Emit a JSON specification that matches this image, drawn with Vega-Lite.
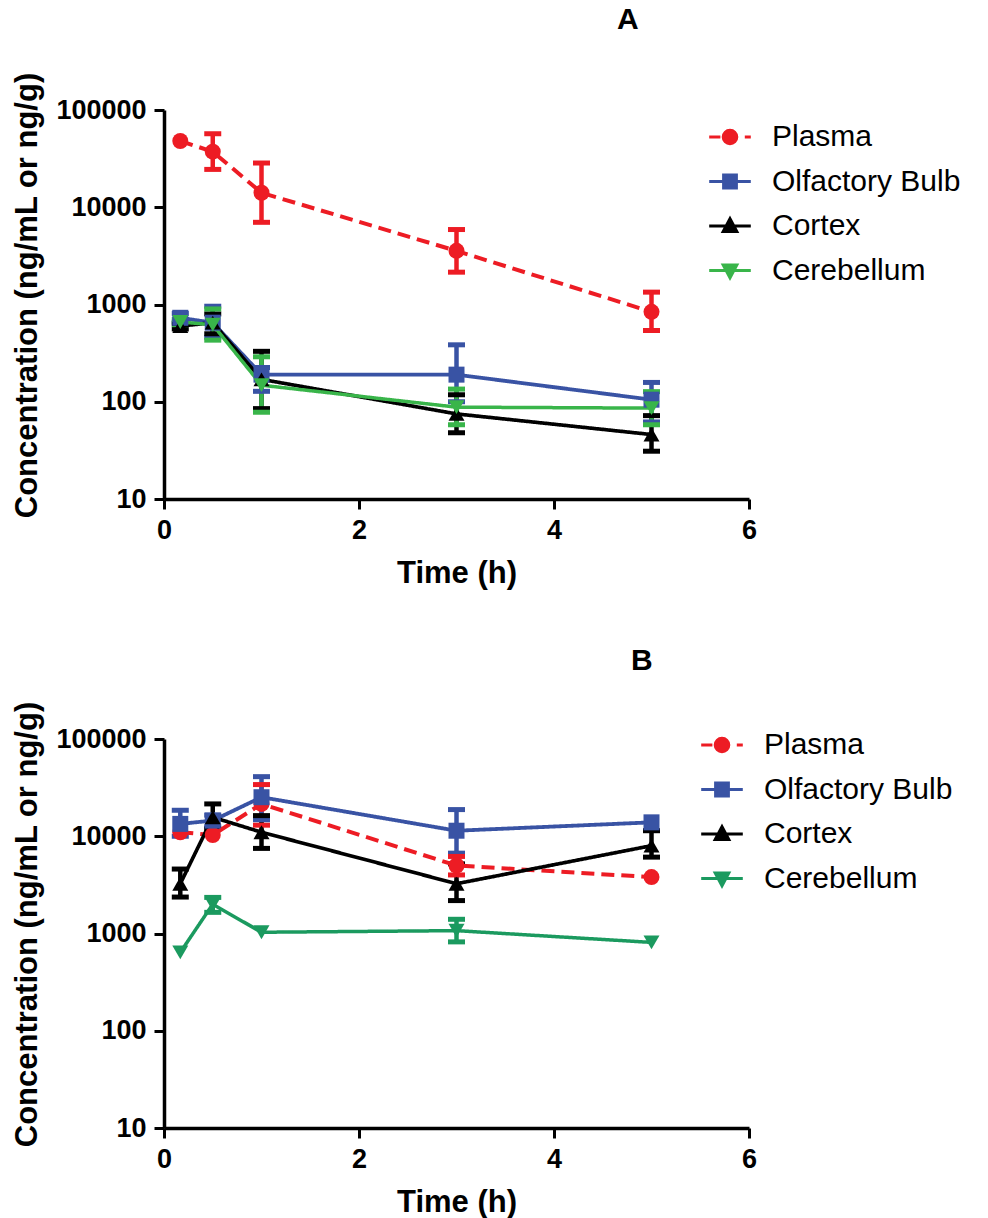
{
  "$schema": "https://vega.github.io/schema/vega-lite/v6.json",
  "background": "white",
  "padding": {"left": 11, "top": 4, "right": 5, "bottom": 2},
  "spacing": 57,
  "resolve": {"scale": {"color": "independent", "fill": "independent", "stroke": "independent", "shape": "independent", "strokeDash": "independent", "strokeWidth": "independent"}},
  "config": {
    "view": {"stroke": null},
    "font": "Liberation Sans",
    "axis": {
      "grid": false, "domainColor": "black", "domainWidth": 3.5, "tickColor": "black", "tickWidth": 3, "tickSize": 10,
      "labelFont": "Liberation Sans", "labelFontSize": 27, "labelFontWeight": "bold", "labelColor": "black", "labelPadding": 8, "labelFlush": false,
      "titleFont": "Liberation Sans", "titleFontSize": 31, "titleFontWeight": "bold", "titleColor": "black"
    },
    "axisY": {"titlePadding": 12, "titleY": 185},
    "axisX": {"titlePadding": 15},
    "title": {"font": "Liberation Sans", "fontSize": 30, "fontWeight": "bold", "color": "black", "anchor": "start", "frame": "group"},
    "legend": {"labelLimit": 400}
  },
  "datasets": {
    "a": [
      {"series": "Plasma", "time": 0.167, "conc": 48000, "lo": null, "hi": null},
      {"series": "Plasma", "time": 0.5, "conc": 37300, "lo": 24500, "hi": 57000},
      {"series": "Plasma", "time": 1, "conc": 14100, "lo": 7000, "hi": 28500},
      {"series": "Plasma", "time": 3, "conc": 3560, "lo": 2150, "hi": 5900},
      {"series": "Plasma", "time": 5, "conc": 840, "lo": 540, "hi": 1340},
      {"series": "Olfactory Bulb", "time": 0.167, "conc": 730, "lo": 660, "hi": 810},
      {"series": "Olfactory Bulb", "time": 0.5, "conc": 650, "lo": 460, "hi": 960},
      {"series": "Olfactory Bulb", "time": 1, "conc": 190, "lo": 128, "hi": 225},
      {"series": "Olfactory Bulb", "time": 3, "conc": 190, "lo": 100, "hi": 385},
      {"series": "Olfactory Bulb", "time": 5, "conc": 105, "lo": 62, "hi": 158},
      {"series": "Cortex", "time": 0.167, "conc": 600, "lo": 560, "hi": 640},
      {"series": "Cortex", "time": 0.5, "conc": 650, "lo": 500, "hi": 800},
      {"series": "Cortex", "time": 1, "conc": 170, "lo": 85, "hi": 330},
      {"series": "Cortex", "time": 3, "conc": 75, "lo": 48, "hi": 118},
      {"series": "Cortex", "time": 5, "conc": 46, "lo": 31, "hi": 72},
      {"series": "Cerebellum", "time": 0.167, "conc": 660, "lo": 620, "hi": 700},
      {"series": "Cerebellum", "time": 0.5, "conc": 620, "lo": 430, "hi": 900},
      {"series": "Cerebellum", "time": 1, "conc": 148, "lo": 78, "hi": 290},
      {"series": "Cerebellum", "time": 3, "conc": 88, "lo": 58, "hi": 135},
      {"series": "Cerebellum", "time": 5, "conc": 86, "lo": 58, "hi": 127}
    ],
    "b": [
      {"series": "Plasma", "time": 0.167, "conc": 11000, "lo": null, "hi": null},
      {"series": "Plasma", "time": 0.5, "conc": 10300, "lo": null, "hi": null},
      {"series": "Plasma", "time": 1, "conc": 21500, "lo": 13000, "hi": 34000},
      {"series": "Plasma", "time": 3, "conc": 5000, "lo": 4000, "hi": 6200},
      {"series": "Plasma", "time": 5, "conc": 3800, "lo": null, "hi": null},
      {"series": "Olfactory Bulb", "time": 0.167, "conc": 13400, "lo": 10000, "hi": 18500},
      {"series": "Olfactory Bulb", "time": 0.5, "conc": 14500, "lo": 12500, "hi": 16500},
      {"series": "Olfactory Bulb", "time": 1, "conc": 25200, "lo": 14800, "hi": 41000},
      {"series": "Olfactory Bulb", "time": 3, "conc": 11400, "lo": 6700, "hi": 18800},
      {"series": "Olfactory Bulb", "time": 5, "conc": 13900, "lo": null, "hi": null},
      {"series": "Cortex", "time": 0.167, "conc": 3250, "lo": 2370, "hi": 4600},
      {"series": "Cortex", "time": 0.5, "conc": 15700, "lo": 11900, "hi": 21500},
      {"series": "Cortex", "time": 1, "conc": 11000, "lo": 7500, "hi": 16300},
      {"series": "Cortex", "time": 3, "conc": 3250, "lo": 2180, "hi": 5200},
      {"series": "Cortex", "time": 5, "conc": 8000, "lo": 6100, "hi": 11400},
      {"series": "Cerebellum", "time": 0.167, "conc": 640, "lo": null, "hi": null},
      {"series": "Cerebellum", "time": 0.5, "conc": 2000, "lo": 1650, "hi": 2350},
      {"series": "Cerebellum", "time": 1, "conc": 1030, "lo": null, "hi": null},
      {"series": "Cerebellum", "time": 3, "conc": 1070, "lo": 820, "hi": 1400},
      {"series": "Cerebellum", "time": 5, "conc": 810, "lo": null, "hi": null}
    ]
  },
  "vconcat": [
    {
      "width": 585, "height": 389,
      "title": {"text": "A", "dx": 453, "offset": 37},
      "data": {"name": "a"},
      "resolve": {"scale": {"shape": "independent", "fill": "independent", "stroke": "independent"}},
      "encoding": {
        "x": {"field": "time", "type": "quantitative", "title": "Time (h)", "scale": {"domain": [0, 6], "nice": false}, "axis": {"values": [0, 2, 4, 6]}}
      },
      "layer": [
        {
          "mark": {"type": "rule", "strokeWidth": 4.5},
          "encoding": {
            "y": {"field": "lo", "type": "quantitative", "title": "Concentration (ng/mL or ng/g)", "scale": {"type": "log", "domain": [10, 100000]}, "axis": {"values": [10, 100, 1000, 10000, 100000], "format": "d"}},
            "y2": {"field": "hi"},
            "color": {"field": "series", "type": "nominal", "scale": {"domain": ["Plasma", "Olfactory Bulb", "Cortex", "Cerebellum"], "range": ["#ed1c24", "#3953a4", "#000000", "#39b54a"]}, "legend": null}
          }
        },
        {
          "mark": {"type": "tick", "orient": "horizontal", "size": 17, "thickness": 5, "opacity": 1},
          "encoding": {
            "y": {"field": "lo", "type": "quantitative", "title": "Concentration (ng/mL or ng/g)"},
            "color": {"field": "series", "type": "nominal", "legend": null}
          }
        },
        {
          "mark": {"type": "tick", "orient": "horizontal", "size": 17, "thickness": 5, "opacity": 1},
          "encoding": {
            "y": {"field": "hi", "type": "quantitative", "title": "Concentration (ng/mL or ng/g)"},
            "color": {"field": "series", "type": "nominal", "legend": null}
          }
        },
        {
          "mark": {"type": "line"},
          "encoding": {
            "y": {"field": "conc", "type": "quantitative", "title": "Concentration (ng/mL or ng/g)"},
            "color": {"field": "series", "type": "nominal", "legend": null},
            "strokeWidth": {"field": "series", "type": "nominal", "scale": {"domain": ["Plasma", "Olfactory Bulb", "Cortex", "Cerebellum"], "range": [4, 3.5, 3.5, 3.5]}, "legend": null},
            "strokeDash": {"field": "series", "type": "nominal", "scale": {"domain": ["Plasma", "Olfactory Bulb", "Cortex", "Cerebellum"], "range": [[13, 7], [1, 0], [1, 0], [1, 0]]}, "legend": null}
          }
        },
        {
          "mark": {"type": "point", "filled": true, "opacity": 1, "size": 256, "strokeWidth": 0},
          "encoding": {
            "y": {"field": "conc", "type": "quantitative", "title": "Concentration (ng/mL or ng/g)"},
            "color": {"field": "series", "type": "nominal", "legend": null},
            "shape": {"field": "series", "type": "nominal", "scale": {"domain": ["Plasma", "Olfactory Bulb", "Cortex", "Cerebellum"], "range": ["circle", "square", "triangle-up", "triangle-down"]}, "legend": null}
          }
        },
        {
          "transform": [{"filter": "false"}],
          "mark": {"type": "point", "filled": true, "opacity": 1, "size": 256, "strokeWidth": 3},
          "encoding": {
            "y": {"field": "conc", "type": "quantitative", "title": "Concentration (ng/mL or ng/g)"},
            "fill": {"field": "series", "type": "nominal", "scale": {"domain": ["Plasma", "Olfactory Bulb", "Cortex", "Cerebellum"], "range": ["#ed1c24", "#3953a4", "#000000", "#39b54a"]},
              "legend": {"orient": "none", "legendX": 551, "legendY": 12, "title": null, "labelFont": "Liberation Sans", "labelFontSize": 30, "labelColor": "black", "symbolSize": 256, "symbolStrokeWidth": 3, "rowPadding": 14.5, "labelOffset": 27, "padding": 0, "symbolOpacity": 1}},
            "stroke": {"field": "series", "type": "nominal", "scale": {"domain": ["Plasma", "Olfactory Bulb", "Cortex", "Cerebellum"], "range": ["#ed1c24", "#3953a4", "#000000", "#39b54a"]},
              "legend": {"orient": "none", "legendX": 551, "legendY": 12, "title": null, "labelFont": "Liberation Sans", "labelFontSize": 30, "labelColor": "black", "symbolSize": 256, "symbolStrokeWidth": 3, "rowPadding": 14.5, "labelOffset": 27, "padding": 0, "symbolOpacity": 1}},
            "shape": {"field": "series", "type": "nominal", "scale": {"domain": ["Plasma", "Olfactory Bulb", "Cortex", "Cerebellum"], "range": ["M-2.6,0H-1.2M1.85,0H2.6M0.85,0A0.85,0.85,0,1,1,-0.85,0A0.85,0.85,0,1,1,0.85,0Z", "M-2.6,0H2.6M-0.8,-0.8H0.8V0.8H-0.8Z", "M-2.6,0H2.6M0,-0.9L0.85,0.7H-0.85Z", "M-2.6,0H2.6M0,0.9L0.85,-0.7H-0.85Z"]},
              "legend": {"orient": "none", "legendX": 551, "legendY": 12, "title": null, "labelFont": "Liberation Sans", "labelFontSize": 30, "labelColor": "black", "symbolSize": 256, "symbolStrokeWidth": 3, "rowPadding": 14.5, "labelOffset": 27, "padding": 0, "symbolOpacity": 1}}
          }
        }
      ]
    },
    {
      "width": 585, "height": 389,
      "title": {"text": "B", "dx": 467, "offset": 25},
      "data": {"name": "b"},
      "resolve": {"scale": {"shape": "independent", "fill": "independent", "stroke": "independent"}},
      "encoding": {
        "x": {"field": "time", "type": "quantitative", "title": "Time (h)", "scale": {"domain": [0, 6], "nice": false}, "axis": {"values": [0, 2, 4, 6]}}
      },
      "layer": [
        {
          "mark": {"type": "rule", "strokeWidth": 4.5},
          "encoding": {
            "y": {"field": "lo", "type": "quantitative", "title": "Concentration (ng/mL or ng/g)", "scale": {"type": "log", "domain": [10, 100000]}, "axis": {"values": [10, 100, 1000, 10000, 100000], "format": "d"}},
            "y2": {"field": "hi"},
            "color": {"field": "series", "type": "nominal", "scale": {"domain": ["Plasma", "Olfactory Bulb", "Cortex", "Cerebellum"], "range": ["#ed1c24", "#3953a4", "#000000", "#1b9a5f"]}, "legend": null}
          }
        },
        {
          "mark": {"type": "tick", "orient": "horizontal", "size": 17, "thickness": 5, "opacity": 1},
          "encoding": {
            "y": {"field": "lo", "type": "quantitative", "title": "Concentration (ng/mL or ng/g)"},
            "color": {"field": "series", "type": "nominal", "legend": null}
          }
        },
        {
          "mark": {"type": "tick", "orient": "horizontal", "size": 17, "thickness": 5, "opacity": 1},
          "encoding": {
            "y": {"field": "hi", "type": "quantitative", "title": "Concentration (ng/mL or ng/g)"},
            "color": {"field": "series", "type": "nominal", "legend": null}
          }
        },
        {
          "mark": {"type": "line"},
          "encoding": {
            "y": {"field": "conc", "type": "quantitative", "title": "Concentration (ng/mL or ng/g)"},
            "color": {"field": "series", "type": "nominal", "legend": null},
            "strokeWidth": {"field": "series", "type": "nominal", "scale": {"domain": ["Plasma", "Olfactory Bulb", "Cortex", "Cerebellum"], "range": [4, 3.5, 3.5, 3.5]}, "legend": null},
            "strokeDash": {"field": "series", "type": "nominal", "scale": {"domain": ["Plasma", "Olfactory Bulb", "Cortex", "Cerebellum"], "range": [[13, 7], [1, 0], [1, 0], [1, 0]]}, "legend": null}
          }
        },
        {
          "mark": {"type": "point", "filled": true, "opacity": 1, "size": 256, "strokeWidth": 0},
          "encoding": {
            "y": {"field": "conc", "type": "quantitative", "title": "Concentration (ng/mL or ng/g)"},
            "color": {"field": "series", "type": "nominal", "legend": null},
            "shape": {"field": "series", "type": "nominal", "scale": {"domain": ["Plasma", "Olfactory Bulb", "Cortex", "Cerebellum"], "range": ["circle", "square", "triangle-up", "triangle-down"]}, "legend": null}
          }
        },
        {
          "transform": [{"filter": "false"}],
          "mark": {"type": "point", "filled": true, "opacity": 1, "size": 256, "strokeWidth": 3},
          "encoding": {
            "y": {"field": "conc", "type": "quantitative", "title": "Concentration (ng/mL or ng/g)"},
            "fill": {"field": "series", "type": "nominal", "scale": {"domain": ["Plasma", "Olfactory Bulb", "Cortex", "Cerebellum"], "range": ["#ed1c24", "#3953a4", "#000000", "#1b9a5f"]},
              "legend": {"orient": "none", "legendX": 543, "legendY": -9, "title": null, "labelFont": "Liberation Sans", "labelFontSize": 30, "labelColor": "black", "symbolSize": 256, "symbolStrokeWidth": 3, "rowPadding": 14.5, "labelOffset": 27, "padding": 0, "symbolOpacity": 1}},
            "stroke": {"field": "series", "type": "nominal", "scale": {"domain": ["Plasma", "Olfactory Bulb", "Cortex", "Cerebellum"], "range": ["#ed1c24", "#3953a4", "#000000", "#1b9a5f"]},
              "legend": {"orient": "none", "legendX": 543, "legendY": -9, "title": null, "labelFont": "Liberation Sans", "labelFontSize": 30, "labelColor": "black", "symbolSize": 256, "symbolStrokeWidth": 3, "rowPadding": 14.5, "labelOffset": 27, "padding": 0, "symbolOpacity": 1}},
            "shape": {"field": "series", "type": "nominal", "scale": {"domain": ["Plasma", "Olfactory Bulb", "Cortex", "Cerebellum"], "range": ["M-2.6,0H-1.2M1.85,0H2.6M0.85,0A0.85,0.85,0,1,1,-0.85,0A0.85,0.85,0,1,1,0.85,0Z", "M-2.6,0H2.6M-0.8,-0.8H0.8V0.8H-0.8Z", "M-2.6,0H2.6M0,-0.9L0.85,0.7H-0.85Z", "M-2.6,0H2.6M0,0.9L0.85,-0.7H-0.85Z"]},
              "legend": {"orient": "none", "legendX": 543, "legendY": -9, "title": null, "labelFont": "Liberation Sans", "labelFontSize": 30, "labelColor": "black", "symbolSize": 256, "symbolStrokeWidth": 3, "rowPadding": 14.5, "labelOffset": 27, "padding": 0, "symbolOpacity": 1}}
          }
        }
      ]
    }
  ]
}
